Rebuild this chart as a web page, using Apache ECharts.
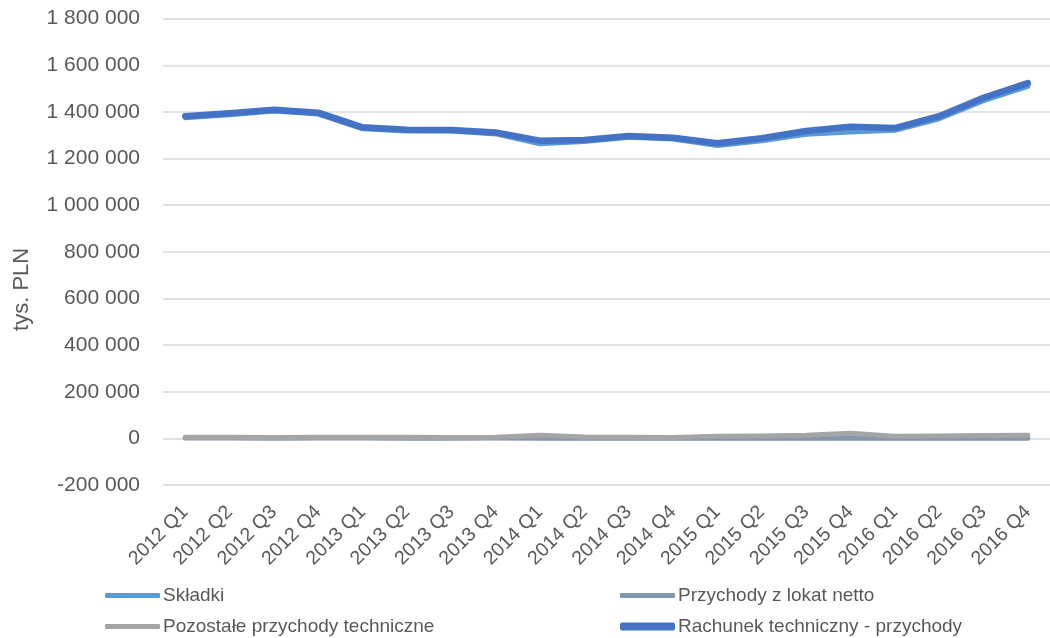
<!DOCTYPE html>
<html>
<head>
<meta charset="utf-8">
<script src="https://cdn.jsdelivr.net/npm/echarts@6/dist/echarts.min.js"></script>
<style>html,body{margin:0;padding:0;background:#fff}#c{width:1050px;height:638px}</style>
</head>
<body>
<div id="c"></div>
<script>
var categories = ['2012 Q1','2012 Q2','2012 Q3','2012 Q4','2013 Q1','2013 Q2','2013 Q3','2013 Q4','2014 Q1','2014 Q2','2014 Q3','2014 Q4','2015 Q1','2015 Q2','2015 Q3','2015 Q4','2016 Q1','2016 Q2','2016 Q3','2016 Q4'];
var skladki = [1375500,1387800,1404200,1390700,1327900,1318100,1318000,1305800,1263200,1273400,1291300,1284100,1256500,1276300,1304100,1314400,1321200,1371000,1448300,1510100];
var lokaty = [1500,1200,800,1300,1100,900,1000,1200,800,600,700,900,500,700,900,600,800,1000,700,900];
var pozostale = [5000,5000,4000,5000,5000,5000,4000,5000,13000,6000,5000,4000,9000,10000,13000,22000,9000,10000,12000,13000];
var rachunek = [1382000,1394000,1409000,1397000,1334000,1324000,1323000,1312000,1277000,1280000,1297000,1289000,1266000,1287000,1318000,1337000,1331000,1382000,1461000,1524000];
var seriesNames = ['Składki','Przychody z lokat netto','Pozostałe przychody techniczne','Rachunek techniczny - przychody'];
var colors = ['#5B9BD5','#8497B0','#A5A5A5','#4472C4'];

var font = 'Liberation Sans';
var txt = '#595959';
function fmt(v){ var s = Math.abs(v).toString().replace(/\B(?=(\d{3})+(?!\d))/g,' '); return (v<0?'-':'')+s; }

function leg(i, left, top, h){
  return {data:[{name:seriesNames[i], icon:'roundRect', itemStyle:{color:colors[i]}}], left:left, top:top,
    itemWidth:55, itemHeight:h, itemGap:0, padding:0,
    textStyle:{color:txt, fontFamily:font, fontSize:19, padding:[0,0,0,-2]}, selectedMode:false};
}

var chart = echarts.init(document.getElementById('c'));
chart.setOption({
  animation:false,
  grid:{left:163, right:-11, top:18.7, bottom:153, containLabel:false},
  legend:[leg(0,105,586,5), leg(1,620,586,5), leg(2,105,617,5), leg(3,620,617,8)],
  xAxis:{type:'category', data:categories, boundaryGap:true,
    axisLine:{show:false}, axisTick:{show:false},
    axisLabel:{rotate:45, color:txt, fontFamily:font, fontSize:19.5, margin:24, interval:0}},
  yAxis:{type:'value', min:-200000, max:1800000, interval:200000,
    name:'tys. PLN', nameLocation:'middle', nameGap:130, nameRotate:90,
    nameTextStyle:{color:txt, fontFamily:font, fontSize:22, padding:[0,75,0,0]},
    axisLine:{show:false}, axisTick:{show:false},
    axisLabel:{color:txt, fontFamily:font, fontSize:21, margin:23, formatter:fmt},
    splitLine:{lineStyle:{color:'#D9D9D9', width:1.5}}},
  series:[
    {name:seriesNames[0], type:'line', data:skladki, symbol:'none', lineStyle:{color:colors[0], width:5, cap:'round', join:'round'}, itemStyle:{color:colors[0]}},
    {name:seriesNames[1], type:'line', data:lokaty, symbol:'none', lineStyle:{color:colors[1], width:5, cap:'round', join:'round'}, itemStyle:{color:colors[1]}},
    {name:seriesNames[2], type:'line', data:pozostale, symbol:'none', lineStyle:{color:colors[2], width:5, cap:'round', join:'round'}, itemStyle:{color:colors[2]}},
    {name:seriesNames[3], type:'line', data:rachunek, symbol:'none', lineStyle:{color:colors[3], width:6.5, cap:'round', join:'round'}, itemStyle:{color:colors[3]}}
  ]
});
</script>
</body>
</html>
